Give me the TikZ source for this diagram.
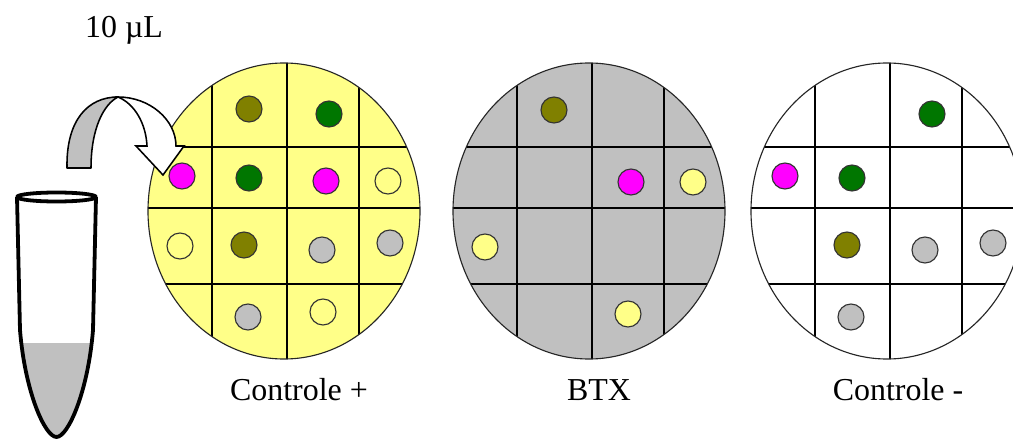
\documentclass[tikz,border=0pt]{standalone}
\usepackage{fontspec}
\setmainfont{Liberation Serif}
\usepackage{xcolor}

\definecolor{platey}{RGB}{255,255,136}
\definecolor{lgray}{RGB}{192,192,192}
\definecolor{dolive}{RGB}{128,128,0}
\definecolor{dgreen}{RGB}{0,118,0}
\definecolor{dpink}{RGB}{255,0,255}

\tikzset{
    well/.style={draw=black!85, line width=0.8pt},
    gridline/.style={line width=1pt},
    spot/.style={draw=black!80, line width=0.8pt},
    tube/.style={line width=2.7pt, line join=round},
    lbl/.style={font=\fontsize{22.7}{26}\selectfont, inner sep=0pt, anchor=base}
}

\begin{document}
\begin{tikzpicture}[x=0.025cm,y=-0.025cm]
        \useasboundingbox (0,0) rectangle (1013,440);
        \clip (0,0) rectangle (1013,440);

        % the three plates with their grids
        \foreach \cx/\col/\nm/\lx/\txt in {284/platey/ctrlpos/299/Controle +, 589/lgray/btx/599/BTX, 887/white/ctrlneg/898/Controle -} {
            \begin{scope}[shift={(\cx,211)}]
                \fill[\col] (0,0) ellipse (136 and 148);
                \begin{scope}
                    \clip (0,0) ellipse (136 and 148);
                    \foreach \gx in {-72,3,75}
                        \draw[gridline] (\gx,-150) -- (\gx,150);
                    \foreach \gy in {-64,-3,73}
                        \draw[gridline] (-140,\gy) -- (140,\gy);
                \end{scope}
                \draw[well] (0,0) ellipse (136 and 148);
            \end{scope}
            \node[lbl] (\nm) at (\lx,400) {\txt};
        }

        % spots, Controle +
        \foreach \px/\py/\c in {249/109/dolive, 329/114/dgreen, 182/176/dpink, 249/178/dgreen,
                326/181/dpink, 388/181/platey, 180/246/platey, 244/245/dolive,
                322/250/lgray, 390/243/lgray, 248/317/lgray, 323/312/platey}
            \filldraw[spot, fill=\c] (\px,\py) circle (13);
        % spots, BTX
        \foreach \px/\py/\c in {554/110/dolive, 631/182/dpink, 693/182/platey,
                485/247/platey, 628/314/platey}
            \filldraw[spot, fill=\c] (\px,\py) circle (13);
        % spots, Controle -
        \foreach \px/\py/\c in {932/114/dgreen, 785/176/dpink, 852/178/dgreen,
                847/245/dolive, 925/250/lgray, 993/243/lgray, 851/317/lgray}
            \filldraw[spot, fill=\c] (\px,\py) circle (13);

        % tube with liquid
        \begin{scope}
            \clip (17,197) -- (20,330) .. controls (25,392) and (45,437) .. (56.5,437)
                .. controls (68,437) and (88,392) .. (93,330) -- (96,197) -- cycle;
            \fill[lgray] (0,343) rectangle (110,440);
        \end{scope}
        \draw[tube] (17,197) -- (20,330) .. controls (25,392) and (45,437) .. (56.5,437)
            .. controls (68,437) and (88,392) .. (93,330) -- (96,197);
        \draw[tube, fill=white] (56.5,197) ellipse (39.5 and 4.5);

        % curved transfer arrow
        \filldraw[fill=lgray, line width=1.1pt, line join=round]
            (67,168) .. controls (66,120) and (88,97) .. (118,97)
            .. controls (104,104) and (91,128) .. (91,168) -- cycle;
        \filldraw[fill=white, line width=1.1pt, line join=miter]
            (118,97) .. controls (150,97) and (176,120) .. (176,146)
            -- (184,146) -- (163,175) -- (136,146) -- (147,146)
            .. controls (146,124) and (135,104) .. (118,97) -- cycle;

        \node[lbl] (vol) at (124,38) {10 µL};
\end{tikzpicture}
\end{document}
